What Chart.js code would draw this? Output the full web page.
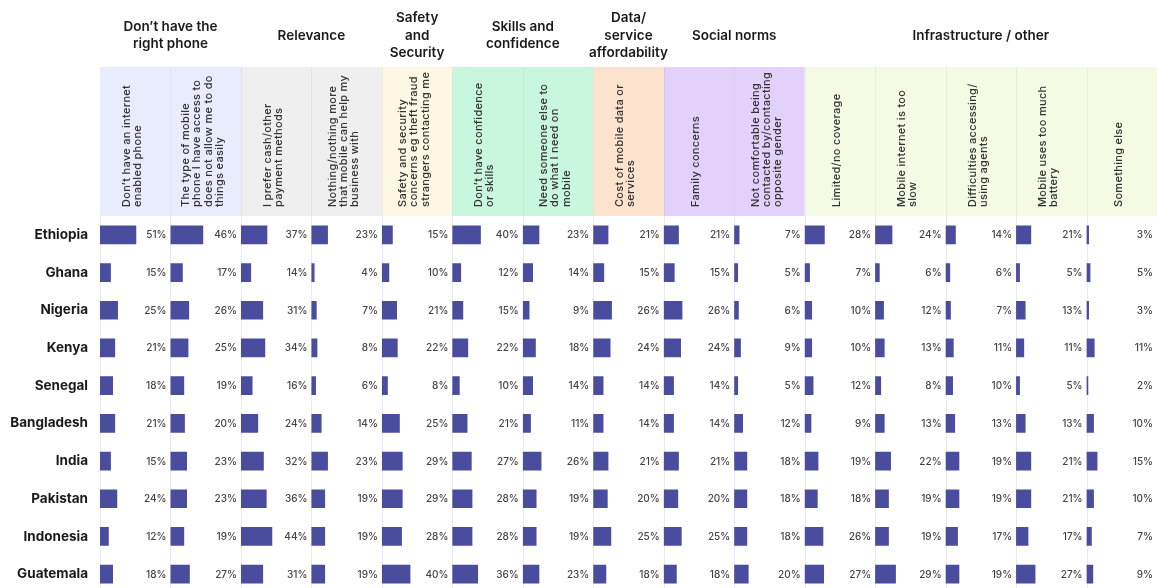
<!DOCTYPE html>
<html>
<head>
<meta charset="utf-8">
<script src="https://cdn.jsdelivr.net/npm/chart.js@4/dist/chart.umd.min.js"></script>
<style>
  html, body { margin: 0; padding: 0; background: #fff; overflow: hidden; }
  #wrap { position: relative; width: 1157px; height: 594px; }
</style>
</head>
<body>
<div id="wrap"><canvas id="c"></canvas></div>
<script>
// Countries (rows)
const countries = ['Ethiopia', 'Ghana', 'Nigeria', 'Kenya', 'Senegal', 'Bangladesh', 'India', 'Pakistan', 'Indonesia', 'Guatemala'];

// Barrier columns, one entry per header line
const barrierLabels = [
  ['Don\u2019t have an internet', 'enabled phone'],
  ['The type of mobile', 'phone I have access to', 'does not allow me to do', 'things easily'],
  ['I prefer cash/other', 'payment methods'],
  ['Nothing/nothing more', 'that mobile can help my', 'business with'],
  ['Safety and security', 'concerns eg theft fraud', 'strangers contacting me'],
  ['Don\u2019t have confidence', 'or skills'],
  ['Need someone else to', 'do what I need on', 'mobile'],
  ['Cost of mobile data or', 'services'],
  ['Family concerns'],
  ['Not comfortable being', 'contacted by/contacting', 'opposite gender'],
  ['Limited/no coverage'],
  ['Mobile internet is too', 'slow'],
  ['Difficulties accessing/', 'using agents'],
  ['Mobile uses too much', 'battery'],
  ['Something else']
];

// Barrier groups and how many columns each covers
const groupTitles = [
  ['Don\u2019t have the', 'right phone'],
  ['Relevance'],
  ['Safety', 'and', 'Security'],
  ['Skills and', 'confidence'],
  ['Data/', 'service', 'affordability'],
  ['Social norms'],
  ['Infrastructure / other']
];
const groupSpans = [2, 2, 1, 2, 1, 2, 5];

// Share of respondents citing each barrier (%), in country order
const noInternetPhone = [51, 15, 25, 21, 18, 21, 15, 24, 12, 18];
const phoneLimits     = [46, 17, 26, 25, 19, 20, 23, 23, 19, 27];
const preferCash      = [37, 14, 31, 34, 16, 24, 32, 36, 44, 31];
const nothingMore     = [23, 4, 7, 8, 6, 14, 23, 19, 19, 19];
const safetySecurity  = [15, 10, 21, 22, 8, 25, 29, 29, 28, 40];
const noConfidence    = [40, 12, 15, 22, 10, 21, 27, 28, 28, 36];
const needSomeone     = [23, 14, 9, 18, 14, 11, 26, 19, 19, 23];
const dataCost        = [21, 15, 26, 24, 14, 14, 21, 20, 25, 18];
const familyConcerns  = [21, 15, 26, 24, 14, 14, 21, 20, 25, 18];
const oppositeGender  = [7, 5, 6, 9, 5, 12, 18, 18, 18, 20];
const noCoverage      = [28, 7, 10, 10, 12, 9, 19, 18, 26, 27];
const tooSlow         = [24, 6, 12, 13, 8, 13, 22, 19, 19, 29];
const agentAccess     = [14, 6, 7, 11, 10, 13, 19, 19, 17, 19];
const batteryUse      = [21, 5, 13, 11, 5, 13, 21, 21, 17, 27];
const somethingElse   = [3, 5, 3, 11, 2, 10, 15, 10, 7, 9];

const seriesValues = [
  noInternetPhone, phoneLimits, preferCash, nothingMore, safetySecurity,
  noConfidence, needSomeone, dataCost, familyConcerns, oppositeGender,
  noCoverage, tooSlow, agentAccess, batteryUse, somethingElse
];

// Styling
const BAR_COLOR = '#4a4d9e';
const GROUP_FILLS = ['#e9ecfc', '#efefef', '#fef7e3', '#c9f7dd', '#fde3cd', '#e2d1fa', '#f4fae3'];
const FONT = 'Inter, "Noto Sans", "DejaVu Sans", sans-serif';
const HEADER_TOP = 67;

function columnScales(chart) {
  return seriesValues.map((_, i) => chart.scales['x' + i]);
}

const tablePlugin = {
  id: 'tableDecor',
  beforeDraw(chart) {
    const ctx = chart.ctx;
    const area = chart.chartArea;
    const cols = columnScales(chart);
    ctx.save();
    ctx.fillStyle = '#ffffff';
    ctx.fillRect(0, 0, chart.width, chart.height);

    // coloured header cells
    let c = 0;
    groupSpans.forEach((span, g) => {
      for (let k = 0; k < span; k++, c++) {
        const s = cols[c];
        ctx.fillStyle = GROUP_FILLS[g];
        ctx.fillRect(s.left, HEADER_TOP, s.right - s.left, area.top - HEADER_TOP);
      }
    });
    // faint dividers between header cells
    ctx.strokeStyle = 'rgba(0,0,0,0.05)';
    ctx.lineWidth = 1;
    cols.forEach((s, i) => {
      if (i === 0) return;
      const x = Math.round(s.left) + 0.5;
      ctx.beginPath();
      ctx.moveTo(x, HEADER_TOP);
      ctx.lineTo(x, area.top);
      ctx.stroke();
    });

    // rotated barrier names, reading upwards from the bottom of the header
    ctx.fillStyle = '#333333';
    ctx.font = '500 11px ' + FONT;
    if ('letterSpacing' in ctx) ctx.letterSpacing = '0.3px';
    ctx.textAlign = 'left';
    ctx.textBaseline = 'middle';
    const lh = 11.2;
    cols.forEach((s, i) => {
      const lines = barrierLabels[i];
      const cx = (s.left + s.right) / 2 - 3;
      const first = cx - (lines.length - 1) * lh / 2;
      lines.forEach((line, j) => {
        ctx.save();
        ctx.translate(first + j * lh, area.top - 9);
        ctx.rotate(-Math.PI / 2);
        ctx.fillText(line, 0, 0);
        ctx.restore();
      });
    });
    if ('letterSpacing' in ctx) ctx.letterSpacing = '0px';

    // group titles
    ctx.fillStyle = '#1a1a1a';
    ctx.font = '600 13.5px ' + FONT;
    ctx.textAlign = 'center';
    const glh = 17.5;
    c = 0;
    groupSpans.forEach((span, g) => {
      const left = cols[c].left;
      const right = cols[c + span - 1].right;
      c += span;
      const lines = groupTitles[g];
      const cx = (left + right) / 2;
      const top = 35.5 - (lines.length - 1) * glh / 2;
      lines.forEach((line, j) => ctx.fillText(line, cx, top + j * glh));
    });
    ctx.restore();
  },
  beforeDatasetsDraw(chart) {
    const ctx = chart.ctx;
    const area = chart.chartArea;
    ctx.save();
    ctx.strokeStyle = '#e8eaf3';
    ctx.lineWidth = 1;
    columnScales(chart).forEach((s) => {
      const x = Math.round(s.left) + 0.5;
      ctx.beginPath();
      ctx.moveTo(x, area.top);
      ctx.lineTo(x, area.bottom);
      ctx.stroke();
    });
    ctx.restore();
  },
  afterDatasetsDraw(chart) {
    const ctx = chart.ctx;
    ctx.save();
    ctx.fillStyle = '#444444';
    ctx.font = '500 10px ' + FONT;
    ctx.textAlign = 'right';
    ctx.textBaseline = 'middle';
    chart.data.datasets.forEach((ds, i) => {
      const s = chart.scales[ds.xAxisID];
      const meta = chart.getDatasetMeta(i);
      meta.data.forEach((bar, j) => {
        ctx.fillText(ds.data[j] + '%', s.right - 4, bar.y + 0.5);
      });
    });
    ctx.restore();
  }
};

const scales = {
  y: {
    type: 'category',
    position: 'left',
    grid: { display: false, drawTicks: false },
    border: { display: false },
    ticks: {
      color: '#1a1a1a',
      padding: 12,
      font: { family: FONT, size: 13.5, weight: '700' }
    },
    afterFit(scale) {
      scale.width = 100;
      // rows fill the full height below the header
      scale.paddingTop = 0;
      scale.paddingBottom = 0;
    }
  }
};
seriesValues.forEach((_, i) => {
  scales['x' + i] = {
    type: 'linear',
    axis: 'x',
    position: 'bottom',
    stack: 'columns',
    stackWeight: 1,
    min: 0,
    max: 100,
    display: false
  };
});

new Chart(document.getElementById('c'), {
  type: 'bar',
  data: {
    labels: countries,
    datasets: seriesValues.map((values, i) => ({
      label: barrierLabels[i].join(' '),
      data: values,
      xAxisID: 'x' + i,
      yAxisID: 'y',
      backgroundColor: BAR_COLOR,
      borderWidth: 0,
      barThickness: 18,
      grouped: false
    }))
  },
  options: {
    indexAxis: 'y',
    responsive: true,
    maintainAspectRatio: false,
    animation: false,
    devicePixelRatio: 1,
    layout: { padding: { top: 216, right: 0, bottom: 1, left: 0 } },
    plugins: {
      legend: { display: false },
      tooltip: { enabled: false }
    },
    scales
  },
  plugins: [tablePlugin]
});
</script>
</body>
</html>
